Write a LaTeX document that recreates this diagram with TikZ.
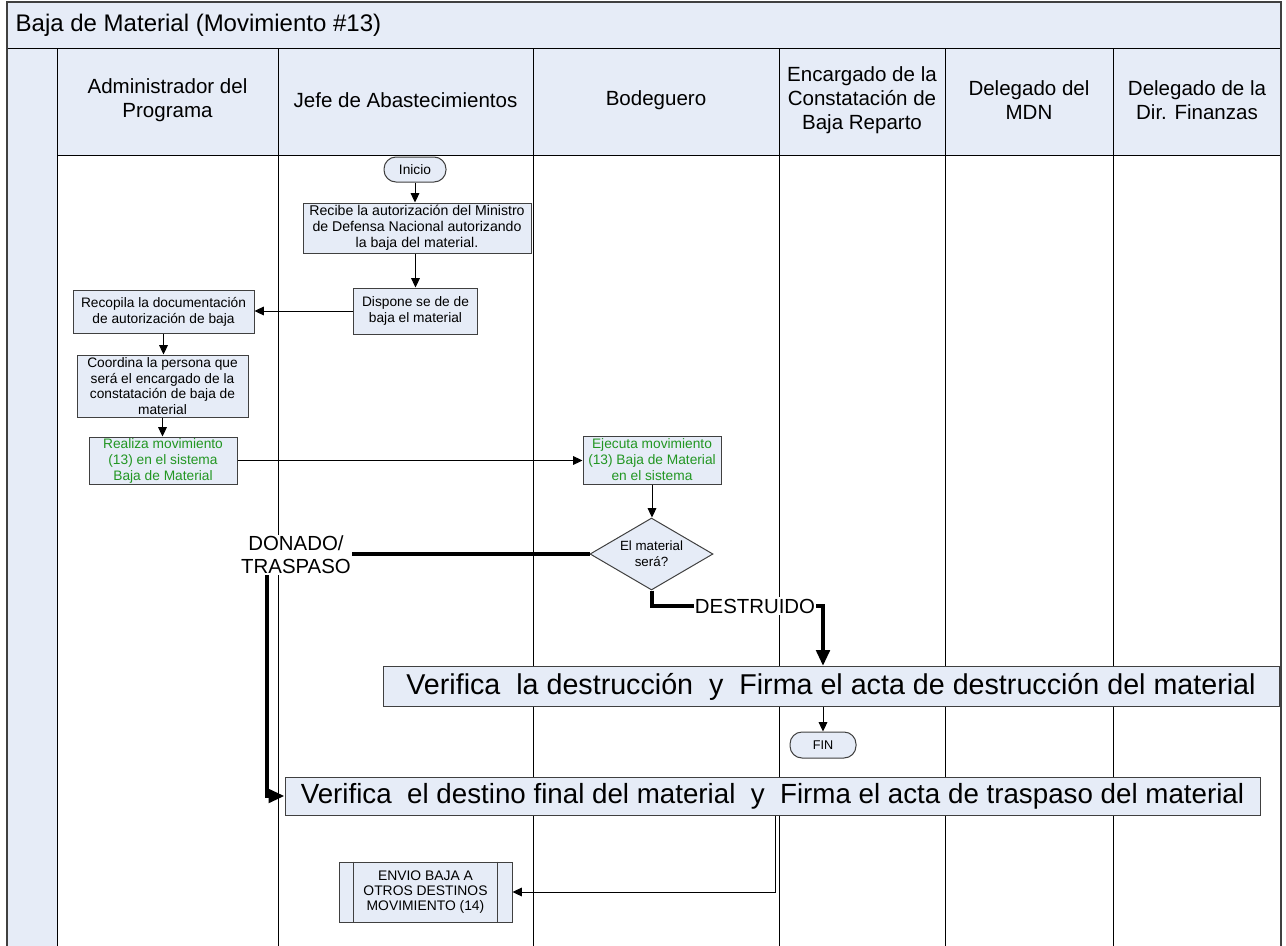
\documentclass[tikz,border=0pt]{standalone}
\usepackage{fontspec}
\setmainfont{Liberation Sans}
\usetikzlibrary{arrows.meta,shapes.geometric,calc}
\definecolor{paneblue}{RGB}{230,236,247}
\definecolor{edgegray}{RGB}{64,64,64}
\definecolor{sysgreen}{RGB}{34,150,34}
\newcommand{\fsz}[2]{\fontsize{#1}{#2}\selectfont}

\begin{document}
\begin{tikzpicture}[x=0.75pt,y=-0.75pt,
  sz/.style 2 args={minimum width=#1*0.75pt, minimum height=#2*0.75pt},
  proc/.style={draw=edgegray, fill=paneblue, line width=0.75pt, inner sep=0pt,
               align=center, font=\fsz{10.3}{12}},
  term/.style={proc, rounded corners=9pt, font=\fsz{10.3}{12}},
  sysproc/.style={proc, text=sysgreen},
  wide/.style={proc, font=\fsz{21.5}{24}},
  decision/.style={proc, diamond, aspect=1.7, font=\fsz{10}{12}},
  lanehead/.style={align=center, font=\fsz{15.4}{18}},
  branch/.style={fill=white, inner sep=1pt, align=center, font=\fsz{15.3}{17.5}},
  lane/.style={line width=0.75pt, draw=black},
  flow/.style={line width=0.75pt, -{Triangle[length=7pt,width=6.5pt]}},
  bigflow/.style={line width=3pt, -{Triangle[length=12pt,width=10pt]}}
]
\useasboundingbox (0,0) rectangle (1286,946);

% pool: title bar, side strip, lane headers
\fill[paneblue] (7,2) rectangle (1281,48);
\fill[paneblue] (7,48) rectangle (57,946);
\fill[paneblue] (57,48) rectangle (1281,155);
\draw[lane] (7,48) -- (1281,48);
\draw[lane] (57,155) -- (1281,155);
\foreach \lx in {57,278,533,779,945,1113}
  \draw[lane] (\lx,48) -- (\lx,946);
\draw[line width=1.1pt, draw=edgegray] (7,946) -- (7,2) -- (1281,2) -- (1281,946);

\node[anchor=west, font=\fsz{18}{20}] (title) at (11,25) {Baja de Material (Movimiento \#13)};

\node[lanehead] (h1) at (167.5,100) {Administrador del\\Programa};
\node[lanehead] (h2) at (405.5,100) {Jefe de Abastecimientos};
\node[lanehead] (h3) at (656,100) {Bodeguero};
\node[lanehead] (h4) at (862,100) {Encargado de la\\Constatación de\\Baja Reparto};
\node[lanehead] (h5) at (1029,100) {Delegado del\\MDN};
\node[lanehead] (h6) at (1197,100) {Delegado de la\\Dir. Finanzas};

% process steps
\node[term, sz={62}{25}] (inicio) at (415,169.5) {Inicio};
\node[proc, sz={228}{50}, font=\fsz{10.6}{12}] (recibe) at (417,228)
  {Recibe la autorización del Ministro\\de Defensa Nacional autorizando\\la baja del material.};
\node[proc, sz={124}{46}] (dispone) at (415.5,311) {Dispone se de de\\baja el material};
\node[proc, sz={181}{43}] (recopila) at (163.5,311.5) {Recopila la documentación\\de autorización de baja};
\node[proc, sz={171}{62}, font=\fsz{10.3}{11.8}] (coordina) at (162.5,386)
  {Coordina la persona que\\será el encargado de la\\constatación de baja de\\material};
\node[sysproc, sz={148}{47}] (realiza) at (163,460.5) {Realiza movimiento\\(13) en el sistema\\Baja de Material};
\node[sysproc, sz={138}{48}] (ejecuta) at (652,460) {Ejecuta movimiento\\(13) Baja de Material\\en el sistema};
\node[decision, sz={123}{72}] (decide) at (651.5,554) {El material\\será?};
\node[wide, sz={896}{40}] (verdes) at (831,686.5)
  {Verifica\ \ la destrucción\ \ y\ \ Firma el acta de destrucción del material};
\node[term, sz={66}{26}, font=\fsz{9.5}{11}] (fin) at (823,745) {FIN};
\node[wide, sz={975}{38}, font=\fsz{20.8}{23}] (vertras) at (772.5,796)
  {Verifica\ \ el destino final del material\ \ y\ \ Firma el acta de traspaso del material};
\node[proc, sz={173}{60}, font=\fsz{10.4}{11.5}] (envio) at (425.5,892)
  {ENVIO BAJA A\\OTROS DESTINOS\\MOVIMIENTO (14)};
\draw[edgegray, line width=0.75pt] ([xshift=15*0.75pt]envio.north west) -- ([xshift=15*0.75pt]envio.south west);
\draw[edgegray, line width=0.75pt] ([xshift=-15*0.75pt]envio.north east) -- ([xshift=-15*0.75pt]envio.south east);

% connectors
\draw[flow] (inicio.south) -- (inicio.south |- recibe.north);
\draw[flow] (dispone.north |- recibe.south) -- (dispone.north);
\draw[flow] (dispone.west) -- (dispone.west -| recopila.east);
\draw[flow] (recopila.south) -- (recopila.south |- coordina.north);
\draw[flow] (coordina.south) -- (coordina.south |- realiza.north);
\draw[flow] (realiza.east) -- (realiza.east -| ejecuta.west);
\draw[flow] (ejecuta.south) -- (ejecuta.south |- decide.north);

% branch: donated / transferred
\coordinate (dturn) at (267,796);
\draw[bigflow] (decide.west) -| (dturn) -- (vertras.west);
\node[branch] (donado) at (296,555) {DONADO/\\TRASPASO};

% branch: destroyed
\coordinate (dx) at (823,606);
\draw[bigflow] (decide.south) |- (dx) -- (dx |- verdes.north);
\node[branch] (destruido) at (755,606) {DESTRUIDO};

\draw[flow] (verdes.south -| fin.north) -- (fin.north);
\coordinate (ex) at (775,892);
\draw[flow] (vertras.south -| ex) -- (ex) -- (envio.east);
\end{tikzpicture}
\end{document}
